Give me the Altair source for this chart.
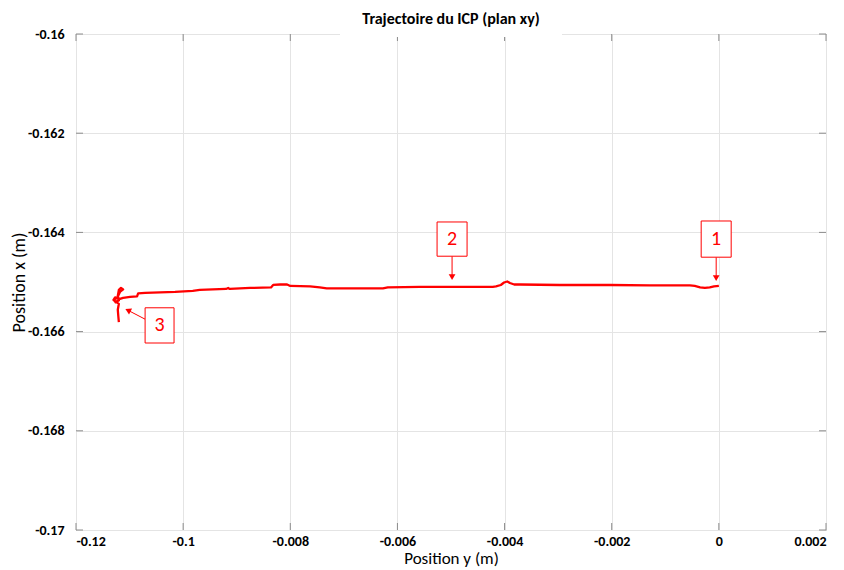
import altair as alt
import pandas as pd

# ---- trajectory (Position y, Position x) ----
traj_y = [0.0, -0.00009, -0.00017, -0.00026, -0.00035, -0.00045, -0.00054, -0.00129,
          -0.00203, -0.00297, -0.00371, -0.00382, -0.00390, -0.00395, -0.00401, -0.00407,
          -0.00416, -0.00422, -0.00502, -0.00558, -0.00618, -0.00627, -0.00679, -0.00732,
          -0.00745, -0.00763, -0.00800, -0.00806, -0.00819, -0.00832, -0.00836, -0.00875,
          -0.00913, -0.00916, -0.00920, -0.00969, -0.00982, -0.01015, -0.01043, -0.01071,
          -0.01084, -0.01086, -0.01099, -0.01112, -0.01118, -0.01127, -0.01130, -0.01126,
          -0.01120, -0.01122, -0.01120, -0.01116, -0.01112, -0.01118, -0.01123, -0.01129,
          -0.01126, -0.01125, -0.01120, -0.01122, -0.01121, -0.01120]
traj_x = [-0.16508, -0.16509, -0.16511, -0.16512, -0.16511, -0.16508, -0.16507, -0.16507,
          -0.16506, -0.16506, -0.16505, -0.16505, -0.16502, -0.16499, -0.16501, -0.16506,
          -0.16509, -0.16510, -0.16510, -0.16510, -0.16511, -0.16513, -0.16513, -0.16513,
          -0.16511, -0.16509, -0.16508, -0.16505, -0.16505, -0.16506, -0.16511, -0.16512,
          -0.16514, -0.16512, -0.16514, -0.16516, -0.16518, -0.16520, -0.16521, -0.16522,
          -0.16523, -0.16529, -0.16530, -0.16532, -0.16534, -0.16531, -0.16536, -0.16540,
          -0.16537, -0.16528, -0.16516, -0.16512, -0.16515, -0.16520, -0.16532, -0.16535,
          -0.16541, -0.16540, -0.16544, -0.16556, -0.16569, -0.16581]

# ---- axes ----
x_tick_values = [-0.012, -0.010, -0.008, -0.006, -0.004, -0.002, 0.0, 0.002]
x_tick_labels = ["-0.12", "-0.1", "-0.008", "-0.006", "-0.004", "-0.002", "0", "0.002"]
y_tick_values = [-0.170, -0.168, -0.166, -0.164, -0.162, -0.160]
y_tick_labels = ["-0.17", "-0.168", "-0.166", "-0.164", "-0.162", "-0.16"]

# ---- annotations (numbered boxes with arrows) ----
ann_labels = ["1", "2", "3"]
ann_y_left = [-0.00033, -0.00526, -0.01071]
ann_y_right = [0.00023, -0.00470, -0.01017]
ann_x_top = [-0.16377, -0.16379, -0.16552]
ann_x_bottom = [-0.16450, -0.16448, -0.16623]
arrow_y_start = [-0.00005, -0.00498, -0.01071]
arrow_x_start = [-0.16450, -0.16448, -0.16575]
arrow_y_end = [-0.00005, -0.00498, -0.01103]
arrow_x_end = [-0.16492, -0.16490, -0.16557]
arrow_angle = [180, 180, 297]

FONT = "Carlito, 'Liberation Sans Narrow', 'Liberation Sans', sans-serif"
RED = "#ff0000"
GRAY = "#8c8c8c"

traj = pd.DataFrame({"i": range(len(traj_y)), "py": traj_y, "px": traj_x})
ann = pd.DataFrame({
    "label": ann_labels,
    "yl": ann_y_left, "yr": ann_y_right, "xt": ann_x_top, "xb": ann_x_bottom,
    "yc": [(a + b) / 2 for a, b in zip(ann_y_left, ann_y_right)],
    "xc": [(a + b) / 2 for a, b in zip(ann_x_top, ann_x_bottom)],
    "ys": arrow_y_start, "xs": arrow_x_start, "ye": arrow_y_end, "xe": arrow_x_end,
    "ang": arrow_angle,
})
xt_df = pd.DataFrame({"v": x_tick_values})
yt_df = pd.DataFrame({"v": y_tick_values})

xscale = alt.Scale(domain=[-0.012, 0.002], nice=False, zero=False)
yscale = alt.Scale(domain=[-0.17, -0.16], nice=False, zero=False)

x_label_expr = "[" + ",".join("'%s'" % s for s in x_tick_labels) + "][round((datum.value + 0.012) / 0.002)]"
y_label_expr = "[" + ",".join("'%s'" % s for s in y_tick_labels) + "][round((datum.value + 0.17) / 0.002)]"

XAX = alt.Axis(values=x_tick_values, labelExpr=x_label_expr, title="Position y (m)",
               grid=True, ticks=False, domain=False, labelPadding=4,
               titleY=20, titleBaseline="top", titleFontSize=17)
YAX = alt.Axis(values=y_tick_values, labelExpr=y_label_expr, title="Position x (m)",
               grid=True, ticks=False, domain=False, labelPadding=12,
               titleX=-57, titleBaseline="middle")


def X(f):
    return alt.X(f, scale=xscale, axis=XAX, title="Position y (m)")


def Y(f):
    return alt.Y(f, scale=yscale, axis=YAX, title="Position x (m)")


line = alt.Chart(traj).mark_line(color=RED, strokeWidth=2.3, strokeJoin="round").encode(
    x=X("py:Q"), y=Y("px:Q"), order="i:Q")

# inner tick marks on all four sides
xticks_b = alt.Chart(xt_df).mark_rule(color=GRAY).encode(
    x=X("v:Q"), y=alt.value(496), y2=alt.value(489))
xticks_t = alt.Chart(xt_df).mark_rule(color=GRAY).encode(
    x=X("v:Q"), y=alt.value(0), y2=alt.value(7))
yticks_l = alt.Chart(yt_df).mark_rule(color=GRAY).encode(
    y=Y("v:Q"), x=alt.value(0), x2=alt.value(7))
yticks_r = alt.Chart(yt_df).mark_rule(color=GRAY).encode(
    y=Y("v:Q"), x=alt.value(750), x2=alt.value(743))

# white gap in the top border behind the title
title_gap = alt.Chart(xt_df.head(1)).mark_rect(color="white").encode(
    x=alt.value(264), x2=alt.value(486), y=alt.value(-3), y2=alt.value(3))

boxes = alt.Chart(ann).mark_rect(fill="white", stroke=RED, strokeWidth=1).encode(
    x=X("yl:Q"), x2="yr:Q", y=Y("xt:Q"), y2="xb:Q")
texts = alt.Chart(ann).mark_text(color=RED, fontSize=20, font=FONT, baseline="middle").encode(
    x=X("yc:Q"), y=Y("xc:Q"), text="label:N")
arrows = alt.Chart(ann).mark_rule(color=RED, strokeWidth=1).encode(
    x=X("ys:Q"), x2="ye:Q", y=Y("xs:Q"), y2="xe:Q")
heads = alt.Chart(ann).mark_point(shape="triangle-up", filled=True, color=RED, size=45,
                                  opacity=1).encode(
    x=X("ye:Q"), y=Y("xe:Q"), angle=alt.Angle("ang:Q", scale=None))

chart = alt.layer(
    line, xticks_b, xticks_t, yticks_l, yticks_r, arrows, heads, boxes, texts, title_gap
).properties(
    width=750, height=496,
    title=alt.TitleParams("Trajectoire du ICP (plan xy)", fontSize=16, fontWeight="bold",
                          font=FONT, anchor="middle", offset=0, color="black"),
    autosize=alt.AutoSizeParams(type="none"),
    padding={"left": 68, "top": 26, "right": 10, "bottom": 38},
).configure_view(
    stroke=GRAY, strokeWidth=1
).configure_axis(
    gridColor="#e4e4e4", gridWidth=1,
    labelFont=FONT, labelFontSize=14, labelFontWeight="bold", labelColor="black",
    titleFont=FONT, titleFontSize=18, titleFontWeight="normal", titleColor="black",
)

chart.save("out.html", embed_options={"renderer": "svg", "actions": False})
